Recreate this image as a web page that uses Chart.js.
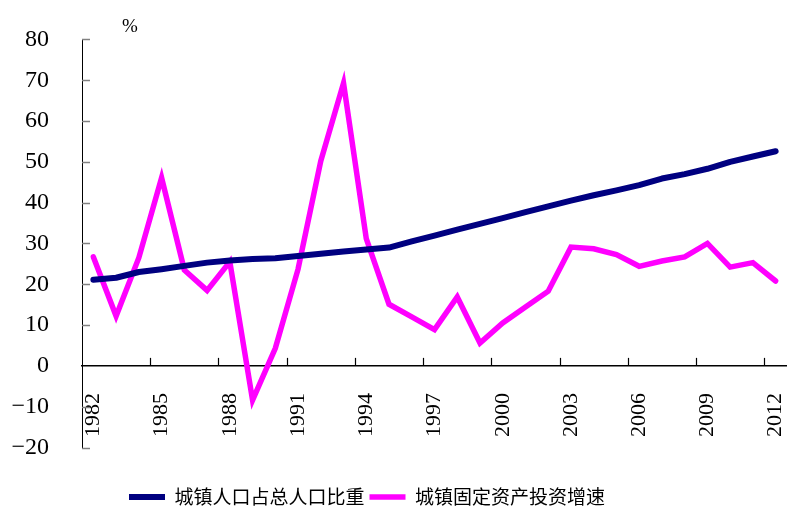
<!DOCTYPE html>
<html>
<head>
<meta charset="utf-8">
<script src="https://cdn.jsdelivr.net/npm/chart.js@4/dist/chart.umd.min.js"></script>
<style>
  html, body { margin: 0; padding: 0; background: #fff; }
  #wrap { width: 787px; height: 508px; position: relative; }
</style>
</head>
<body>
<div id="wrap"><canvas id="chart"></canvas></div>
<script>
var years = ["1982","1983","1984","1985","1986","1987","1988","1989","1990","1991",
             "1992","1993","1994","1995","1996","1997","1998","1999","2000","2001",
             "2002","2003","2004","2005","2006","2007","2008","2009","2010","2011","2012"];

var urbanShare = [21.1, 21.6, 23.0, 23.7, 24.5, 25.3, 25.8, 26.2, 26.4, 26.9,
                  27.5, 28.0, 28.5, 29.0, 30.5, 31.9, 33.4, 34.8, 36.2, 37.7,
                  39.1, 40.5, 41.8, 43.0, 44.3, 45.9, 47.0, 48.3, 50.0, 51.3, 52.6];

var investGrowth = [26.7, 12.2, 26.5, 46.1, 23.5, 18.5, 25.5, -8.4, 4.3, 23.7,
                    50.2, 69.3, 31.2, 15.1, 12.0, 8.9, 16.9, 5.6, 10.5, 14.4,
                    18.3, 29.1, 28.7, 27.3, 24.4, 25.7, 26.7, 30.0, 24.2, 25.3, 20.8];

var seriesNames = ["城镇人口占总人口比重", "城镇固定资产投资增速"];

// little inside tick marks, the "%" unit and legend placement
var extras = {
    id: 'extras',
    afterLayout: function(chart) {
        var lg = chart.legend;
        var h = lg.height;
        lg.left = 124;
        lg.top = 482.5;
        lg.bottom = lg.top + h;
    },
    afterDatasetsDraw: function(chart) {
        var ctx = chart.ctx;
        var xs = chart.scales.x, ys = chart.scales.y;
        var y0 = ys.getPixelForValue(0);
        ctx.save();
        ctx.lineWidth = 1.5;
        ctx.strokeStyle = '#808080';
        for (var v = -20; v <= 80; v += 10) {
            if (v === 0) continue;
            var py = Math.round(ys.getPixelForValue(v)) + 0.5;
            ctx.beginPath();
            ctx.moveTo(chart.chartArea.left, py);
            ctx.lineTo(chart.chartArea.left + 8, py);
            ctx.stroke();
        }
        ctx.strokeStyle = '#000';
        ctx.lineWidth = 1.2;
        for (var i = 3; i < years.length; i += 3) {
            var px = Math.round((xs.getPixelForValue(i - 1) + xs.getPixelForValue(i)) / 2) + 0.5;
            ctx.beginPath();
            ctx.moveTo(px, y0);
            ctx.lineTo(px, y0 - 8);
            ctx.stroke();
        }
        ctx.fillStyle = '#000';
        ctx.font = '19px "Liberation Serif"';
        ctx.textAlign = 'center';
        ctx.textBaseline = 'alphabetic';
        ctx.fillText('%', 130, 32);
        ctx.restore();
    }
};

var ctx = document.getElementById('chart').getContext('2d');

var chart = new Chart(ctx, {
    type: 'line',
    data: {
        labels: years,
        datasets: [{
            label: seriesNames[0],
            data: urbanShare,
            borderColor: '#000080',
            backgroundColor: '#000080',
            borderWidth: 6,
            borderCapStyle: 'round',
            borderJoinStyle: 'round',
            pointRadius: 0,
            tension: 0
        }, {
            label: seriesNames[1],
            data: investGrowth,
            borderColor: '#ff00ff',
            backgroundColor: '#ff00ff',
            borderWidth: 5.5,
            borderCapStyle: 'round',
            borderJoinStyle: 'miter',
            pointRadius: 0,
            tension: 0
        }]
    },
    options: {
        responsive: true,
        maintainAspectRatio: false,
        animation: false,
        layout: {
            padding: { left: 0, right: 0, top: 39, bottom: 26.5 }
        },
        plugins: {
            tooltip: { enabled: false },
            legend: {
                position: 'bottom',
                align: 'start',
                labels: {
                    usePointStyle: true,
                    pointStyle: 'line',
                    pointStyleWidth: 36,
                    padding: 5,
                    color: '#000',
                    font: { family: '"Noto Sans CJK SC"', size: 19 }
                }
            }
        },
        scales: {
            x: {
                type: 'category',
                offset: true,
                position: { y: 0 },
                grid: { display: false },
                border: { display: true, color: '#000', width: 1.5 },
                ticks: {
                    autoSkip: false,
                    minRotation: 90,
                    maxRotation: 90,
                    padding: 19,
                    color: '#000',
                    font: { family: '"Liberation Serif"', size: 22 },
                    callback: function(v, i) { return i % 3 === 0 ? years[i] : ''; }
                },
                afterFit: function(scale) {
                    scale.height = 0;
                    scale.paddingLeft = 0;
                    scale.paddingRight = 0;
                    scale.paddingTop = 0;
                    scale.paddingBottom = 0;
                }
            },
            y: {
                min: -20,
                max: 80,
                grid: { display: false },
                border: { display: true, color: '#000', width: 1 },
                ticks: {
                    stepSize: 10,
                    padding: 25,
                    color: '#000',
                    font: { family: '"Liberation Serif"', size: 24 },
                    callback: function(v) { return String(v).replace('-', '\u2212'); }
                },
                afterFit: function(scale) { scale.width = 82; }
            }
        }
    },
    plugins: [extras]
});
</script>
</body>
</html>
